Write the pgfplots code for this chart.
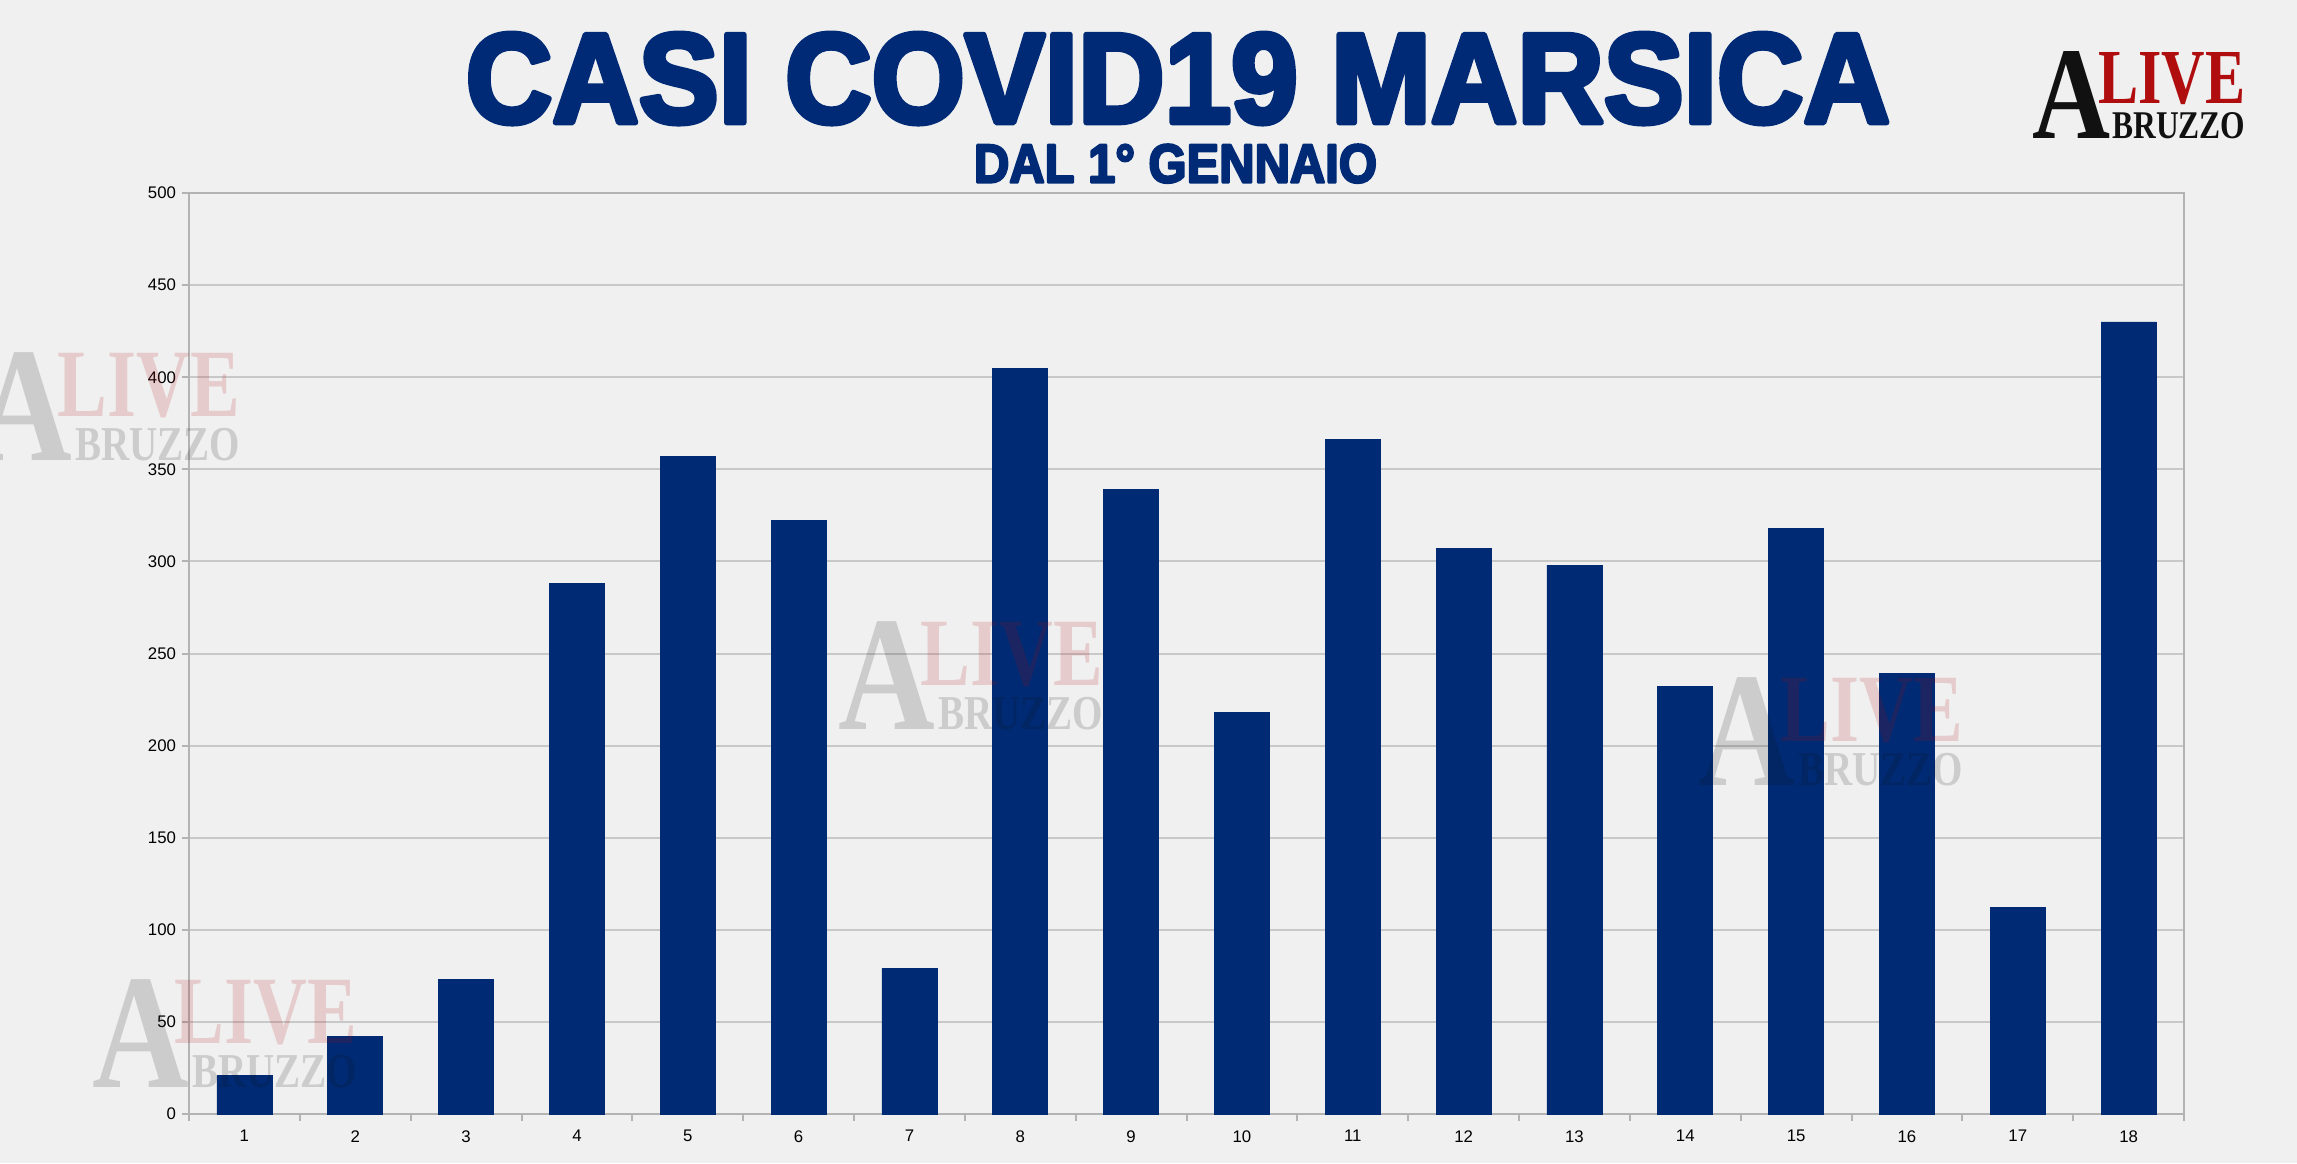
\documentclass[border=0pt]{standalone}
\usepackage{pgfplots}
\pgfplotsset{compat=1.18}
\usepackage{graphicx}
\usepackage{fontspec}
\setmainfont{Liberation Sans}
\newfontfamily\heavyfont{Liberation Sans}[BoldFeatures={FakeBold=4.5}]
\newfontfamily\seriffont{Liberation Serif}
\definecolor{bg}{RGB}{240,240,240}
\definecolor{navy}{RGB}{0,42,115}
\definecolor{titlenavy}{RGB}{0,42,118}
\definecolor{gridc}{RGB}{200,200,200}
\definecolor{axisc}{RGB}{179,179,179}
\definecolor{logored}{RGB}{176,14,14}
\definecolor{logoblack}{RGB}{17,17,17}

\newcommand{\alogo}[4]{%
 \begin{scope}[shift={(#1,#2)}, scale=#3, transform shape, opacity=#4]
 \node[anchor=north west, inner sep=0pt, text=logoblack] at (1pt,-1.5pt) {\resizebox{39pt}{43.5pt}{\seriffont\bfseries A}};
 \node[anchor=north west, inner sep=0pt, text=logored] at (34pt,-2pt) {\resizebox{73.5pt}{25.5pt}{\seriffont\bfseries LIVE}};
 \node[anchor=north west, inner sep=0pt, text=logoblack] at (41pt,-32pt) {\resizebox{66.5pt}{13pt}{\seriffont\bfseries BRUZZO}};
 \end{scope}}

\begin{document}
\begin{tikzpicture}
\path[use as bounding box, fill=bg] (0,0) rectangle (1148.5pt,-581.5pt);
\clip (0,0) rectangle (1148.5pt,-581.5pt);
\begin{scope}[line join=round, miter limit=1]
\node[anchor=north, inner sep=0pt, text=titlenavy, line join=round] at (589pt,-16.5pt) {\resizebox{712pt}{44.5pt}{\heavyfont\bfseries CASI COVID19 MARSICA}};
\node[anchor=north, inner sep=0pt, text=titlenavy, line join=round] at (587.75pt,-72pt) {\resizebox{201.5pt}{19pt}{\heavyfont\bfseries DAL 1° GENNAIO}};
\end{scope}
\begin{axis}[
  at={(94.5pt,-557pt)}, anchor=south west,
  scale only axis, width=997.5pt, height=460.5pt,
  xmin=0.5, xmax=18.5, ymin=0, ymax=500,
  ytick={0,50,...,500},
  xtick={0.5,1.5,...,18.5}, xticklabels={},
  extra x ticks={1,2,...,18},
  extra x tick style={major tick length=0pt, grid=none},
  ymajorgrids, grid style={gridc, line width=1pt},
  axis line style={axisc, line width=1pt},
  tick style={axisc, line width=1pt},
  tick align=outside, major tick length=3.3pt,
  xtick pos=bottom, ytick pos=left,
  ticklabel style={font=\fontsize{8.4}{10}\selectfont, text=black},
  /pgf/number format/assume math mode=true,
  yticklabel style={inner sep=0pt, xshift=-3pt},
  xticklabel style={inner sep=0pt, yshift=-8pt},
  ybar, bar width=27.5pt,
]
\addplot[fill=navy, draw=navy] coordinates {
(1,21) (2,42) (3,73) (4,288) (5,357) (6,322) (7,79) (8,405) (9,339)
(10,218) (11,366) (12,307) (13,298) (14,232) (15,318) (16,239) (17,112) (18,430)};
\end{axis}
\alogo{-13.5pt}{-174pt}{1.24}{0.16}
\alogo{45pt}{-487.5pt}{1.24}{0.16}
\alogo{418pt}{-308.5pt}{1.24}{0.16}
\alogo{848pt}{-336.5pt}{1.24}{0.16}
\alogo{1015pt}{-24pt}{1}{1}
\end{tikzpicture}
\end{document}
